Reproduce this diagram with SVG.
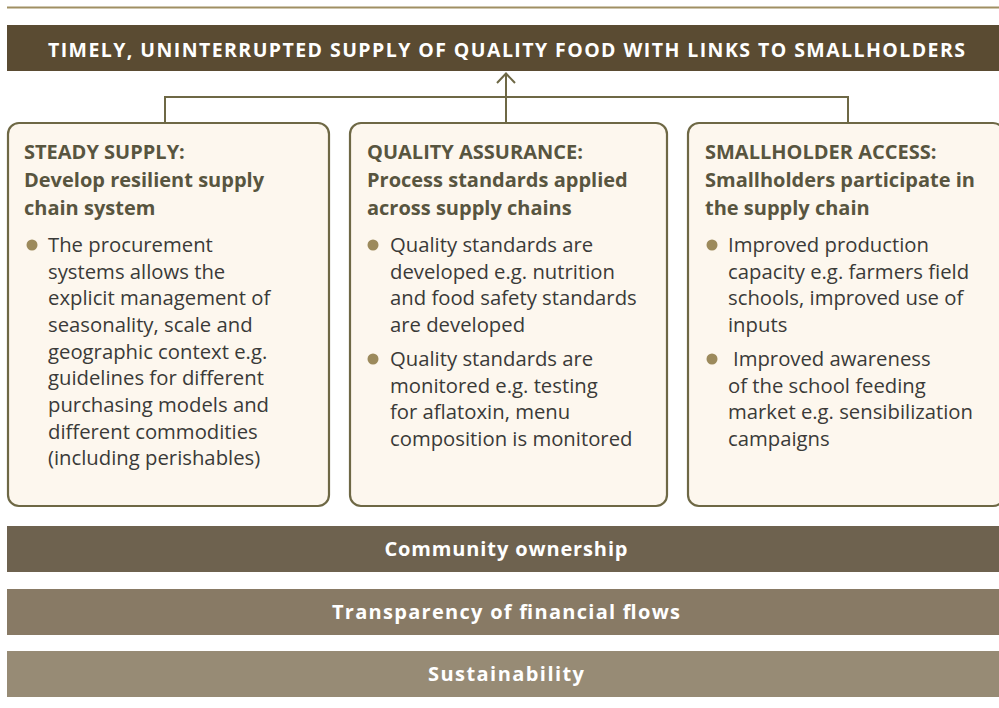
<svg xmlns="http://www.w3.org/2000/svg" width="999" height="708" viewBox="0 0 999 708">
<defs>
<style>
.bg{fill:#ffffff}
.rule{stroke:#a08f63;stroke-width:2;fill:none}
.box{fill:#fdf7ee;stroke:#6e6845;stroke-width:2.2}
.conn{stroke:#6e6845;stroke-width:2;fill:none}
.hdr{font-family:"Open Sans","Liberation Sans",sans-serif;font-weight:700;font-size:19.5px;fill:#ffffff}
.ttl{font-family:"Open Sans","Liberation Sans",sans-serif;font-weight:700;font-size:20px;fill:#58553f}
.txt{font-family:"Open Sans","Liberation Sans",sans-serif;font-weight:400;font-size:20.3px;fill:#3a3a38}
.dot{fill:#9c8a5c}
.bar{font-family:"Open Sans","Liberation Sans",sans-serif;font-weight:700;font-size:20px;fill:#ffffff;text-anchor:middle}
</style>
</defs>
<rect class="bg" x="0" y="0" width="999" height="708"/>
<line class="rule" x1="7" y1="7.5" x2="999" y2="7.5"/>

<g id="goal">
<rect x="7" y="25" width="992" height="46" fill="#5a4b32"/>
<text class="hdr" x="48" y="57" textLength="917" lengthAdjust="spacing">TIMELY, UNINTERRUPTED SUPPLY OF QUALITY FOOD WITH LINKS TO SMALLHOLDERS</text>
</g>

<g id="connectors">
<polyline class="conn" points="165,123 165,97 848,97 848,123"/>
<line class="conn" x1="506" y1="123" x2="506" y2="73"/>
<polyline class="conn" points="497,83 506,73.5 515,83"/>
</g>

<g id="steady-supply">
<rect class="box" x="8" y="123" width="321" height="383" rx="11"/>
<text class="ttl" x="24" y="159">STEADY SUPPLY:</text>
<text class="ttl" x="24" y="187">Develop resilient supply</text>
<text class="ttl" x="24" y="215">chain system</text>
<circle class="dot" cx="32" cy="245" r="5.5"/>
<text class="txt" x="48" y="252">The procurement</text>
<text class="txt" x="48" y="278.7">systems allows the</text>
<text class="txt" x="48" y="305.3">explicit management of</text>
<text class="txt" x="48" y="332">seasonality, scale and</text>
<text class="txt" x="48" y="358.7">geographic context e.g.</text>
<text class="txt" x="48" y="385.3">guidelines for different</text>
<text class="txt" x="48" y="412">purchasing models and</text>
<text class="txt" x="48" y="438.7">different commodities</text>
<text class="txt" x="48" y="465.3">(including perishables)</text>
</g>

<g id="quality-assurance">
<rect class="box" x="350" y="123" width="317" height="383" rx="11"/>
<text class="ttl" x="367" y="159">QUALITY ASSURANCE:</text>
<text class="ttl" x="367" y="187">Process standards applied</text>
<text class="ttl" x="367" y="215">across supply chains</text>
<circle class="dot" cx="373" cy="245" r="5.5"/>
<text class="txt" x="390" y="252">Quality standards are</text>
<text class="txt" x="390" y="278.7">developed e.g. nutrition</text>
<text class="txt" x="390" y="305.3">and food safety standards</text>
<text class="txt" x="390" y="332">are developed</text>
<circle class="dot" cx="373" cy="359" r="5.5"/>
<text class="txt" x="390" y="366">Quality standards are</text>
<text class="txt" x="390" y="392.7">monitored e.g. testing</text>
<text class="txt" x="390" y="419.3">for aflatoxin, menu</text>
<text class="txt" x="390" y="446">composition is monitored</text>
</g>

<g id="smallholder-access">
<rect class="box" x="688" y="123" width="316" height="383" rx="11"/>
<text class="ttl" x="705" y="159">SMALLHOLDER ACCESS:</text>
<text class="ttl" x="705" y="187">Smallholders participate in</text>
<text class="ttl" x="705" y="215">the supply chain</text>
<circle class="dot" cx="712" cy="245" r="5.5"/>
<text class="txt" x="728" y="252">Improved production</text>
<text class="txt" x="728" y="278.7">capacity e.g. farmers field</text>
<text class="txt" x="728" y="305.3">schools, improved use of</text>
<text class="txt" x="728" y="332">inputs</text>
<circle class="dot" cx="712" cy="359" r="5.5"/>
<text class="txt" x="733" y="366">Improved awareness</text>
<text class="txt" x="728" y="392.7">of the school feeding</text>
<text class="txt" x="728" y="419.3">market e.g. sensibilization</text>
<text class="txt" x="728" y="446">campaigns</text>
</g>

<g id="community-ownership">
<rect x="7" y="526" width="992" height="46" fill="#6e624f"/>
<text class="bar" x="506" y="556" textLength="243" lengthAdjust="spacing">Community ownership</text>
</g>
<g id="transparency">
<rect x="7" y="589" width="992" height="46" fill="#887a65"/>
<text class="bar" x="506" y="619" textLength="348" lengthAdjust="spacing">Transparency of financial flows</text>
</g>
<g id="sustainability">
<rect x="7" y="651" width="992" height="46" fill="#978b75"/>
<text class="bar" x="506" y="681" textLength="156" lengthAdjust="spacing">Sustainability</text>
</g>
</svg>
